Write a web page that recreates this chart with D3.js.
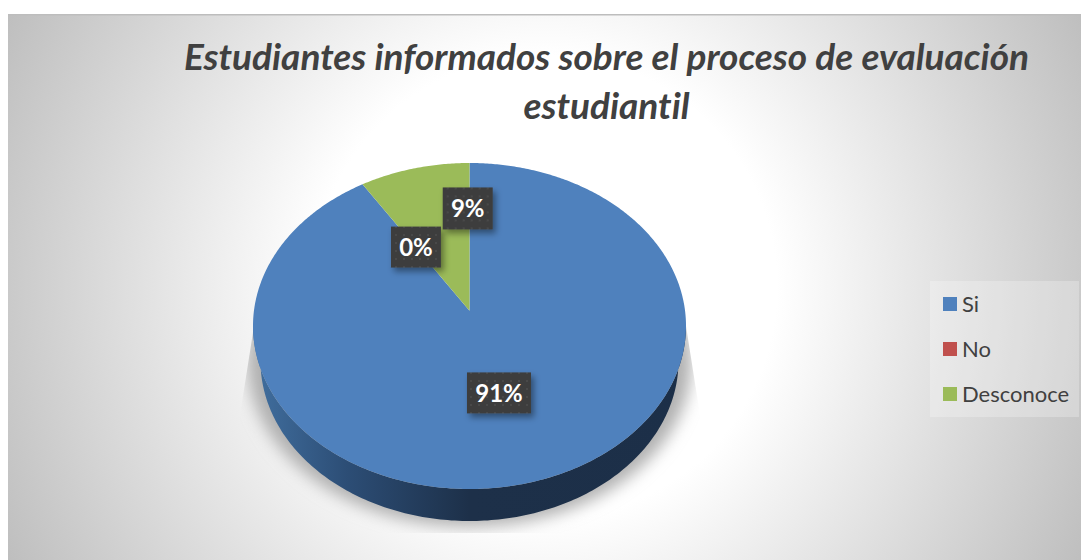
<!DOCTYPE html>
<html>
<head>
<meta charset="utf-8">
<script src="https://cdn.jsdelivr.net/npm/d3@7"></script>
<style>
    html, body { margin: 0; padding: 0; background: #fff; }
    svg { display: block; }
    text { font-family: Lato, "Open Sans", sans-serif; font-variant-ligatures: none; }
</style>
</head>
<body>
<div id="chart"></div>
<script>
"use strict";

// values
var categories = ["Si", "No", "Desconoce"];
var values = [91, 0, 9];
var labels = ["91%", "0%", "9%"];
var colors = ["#4f81bd", "#c0504d", "#9bbb59"];
var titleLines = ["Estudiantes informados sobre el proceso de evaluación", "estudiantil"];

var width = 1081, height = 560;
var panel = { x: 8, y: 14, w: 1073, h: 546 };

// top face of the pie as seen in perspective, bottom rim is a bit smaller
var pie3d = { cx: 469.5, cy: 326, rx: 216.5, ry: 163, tilt: -0.094 };
var rim = { cy: 361, rx: 209, ry: 160 };
var shade = { cy: 362, rx: 222, ry: 165 };

var svg = d3.select("#chart").append("svg")
    .attr("width", width)
    .attr("height", height);

var defs = svg.append("defs");

// background
var bg = defs.append("radialGradient")
    .attr("id", "bg-grad")
    .attr("gradientUnits", "userSpaceOnUse")
    .attr("cx", 545).attr("cy", 287).attr("r", 610);
bg.append("stop").attr("offset", "0").attr("stop-color", "#ffffff");
bg.append("stop").attr("offset", "0.38").attr("stop-color", "#ffffff");
bg.append("stop").attr("offset", "1").attr("stop-color", "#bdbdbd");

svg.append("rect")
    .attr("x", panel.x).attr("y", panel.y)
    .attr("width", panel.w).attr("height", panel.h)
    .attr("fill", "url(#bg-grad)");

svg.append("rect")
    .attr("x", panel.x).attr("y", panel.y)
    .attr("width", panel.w).attr("height", 1.5)
    .attr("fill", "#bdbdbd");

// title
svg.append("g").selectAll("text")
    .data(titleLines)
    .join("text")
    .attr("x", 606.5)
    .attr("y", (d, i) => 70 + i * 49)
    .attr("text-anchor", "middle")
    .attr("font-size", 37)
    .attr("font-weight", 700)
    .attr("font-style", "italic")
    .attr("fill", "#404040")
    .text(d => d);

// unit disc -> screen, angle a clockwise from 12 o'clock, r in 0..1
function project(a, r) {
    var u = Math.sin(a) * r;
    var v = -Math.cos(a) * r;
    var k = pie3d.tilt;
    var w = 1 + k * v;
    return [
        pie3d.cx + pie3d.rx * u * Math.sqrt(1 - k * k) / w,
        pie3d.cy + pie3d.ry * (v + k) / w
    ];
}

function ellipsePoint(e, t) {
    return [pie3d.cx + e.rx * Math.cos(t), e.cy + e.ry * Math.sin(t)];
}

var line = d3.line();

// soft shadow under the pie, cut off by its box as in the picture
defs.append("filter")
    .attr("id", "pie-blur")
    .attr("x", "-20%").attr("y", "-20%").attr("width", "140%").attr("height", "140%")
    .append("feGaussianBlur").attr("stdDeviation", 8);

defs.append("clipPath").attr("id", "shadow-clip")
    .append("path")
    .attr("d", line([[254, 326], [240, 415], [240, 533], [700, 533], [700, 415], [686, 326]]) + "Z");

svg.append("g")
    .attr("clip-path", "url(#shadow-clip)")
    .append("ellipse")
    .attr("cx", pie3d.cx)
    .attr("cy", shade.cy)
    .attr("rx", shade.rx)
    .attr("ry", shade.ry)
    .attr("fill", "#b0b0b0")
    .attr("filter", "url(#pie-blur)");

// side wall
var sideGrad = defs.append("linearGradient")
    .attr("id", "side-grad")
    .attr("gradientUnits", "userSpaceOnUse")
    .attr("x1", pie3d.cx - pie3d.rx).attr("y1", 0)
    .attr("x2", pie3d.cx + pie3d.rx).attr("y2", 0);
sideGrad.append("stop").attr("offset", "0").attr("stop-color", "#416f9f");
sideGrad.append("stop").attr("offset", "0.22").attr("stop-color", "#2c4d75");
sideGrad.append("stop").attr("offset", "0.5").attr("stop-color", "#1d3049");
sideGrad.append("stop").attr("offset", "1").attr("stop-color", "#1c2f48");

var lowerHalf = d3.range(0, 181).map(d => d * Math.PI / 180);
var sidePoints = lowerHalf.map(t => ellipsePoint(rim, t))
    .concat(lowerHalf.slice().reverse().map(t => ellipsePoint(pie3d, t)));

svg.append("path")
    .attr("d", line(sidePoints) + "Z")
    .attr("fill", "url(#side-grad)");

// slices
var pie = d3.pie().sort(null).value(d => d);
var arcs = pie(values);

function slicePath(d) {
    var steps = Math.max(1, Math.ceil((d.endAngle - d.startAngle) / 0.01));
    var pts = d3.range(steps + 1).map(i =>
        project(d.startAngle + (d.endAngle - d.startAngle) * i / steps, 1));
    pts.push(project(0, 0));
    return line(pts) + "Z";
}

svg.append("g").selectAll("path")
    .data(arcs)
    .join("path")
    .attr("d", slicePath)
    .attr("fill", (d, i) => colors[i]);

// data labels
var dots = defs.append("pattern")
    .attr("id", "label-dots")
    .attr("patternUnits", "userSpaceOnUse")
    .attr("width", 8).attr("height", 8);
dots.append("rect").attr("width", 8).attr("height", 8).attr("fill", "#3d3d3d");
dots.append("rect").attr("x", 3).attr("y", 3).attr("width", 2).attr("height", 2).attr("fill", "#4a4a4a");

defs.append("filter")
    .attr("id", "label-shadow")
    .attr("x", "-30%").attr("y", "-30%").attr("width", "160%").attr("height", "160%")
    .append("feDropShadow")
    .attr("dx", 3).attr("dy", 4).attr("stdDeviation", 3)
    .attr("flood-color", "#000").attr("flood-opacity", 0.4);

// label boxes: manual shift of the 9% label, same as in the picture
var labelBox = [
    { w: 64, h: 41, dx: -2, dy: 1 },
    { w: 50, h: 41, dx: 2, dy: 2 },
    { w: 50, h: 42, dx: 27, dy: -28 }
];

var labelG = svg.append("g").selectAll("g")
    .data(arcs)
    .join("g")
    .attr("transform", (d, i) => {
        var p = project((d.startAngle + d.endAngle) / 2, 0.5);
        return `translate(${p[0] + labelBox[i].dx},${p[1] + labelBox[i].dy})`;
    });

labelG.append("rect")
    .attr("x", (d, i) => -labelBox[i].w / 2)
    .attr("y", (d, i) => -labelBox[i].h / 2)
    .attr("width", (d, i) => labelBox[i].w)
    .attr("height", (d, i) => labelBox[i].h)
    .attr("fill", "url(#label-dots)")
    .attr("filter", "url(#label-shadow)");

labelG.append("text")
    .attr("text-anchor", "middle")
    .attr("dy", "0.36em")
    .attr("font-size", 24)
    .attr("font-weight", 700)
    .attr("fill", "#ffffff")
    .text((d, i) => labels[i]);

// legend
svg.append("rect")
    .attr("x", 930).attr("y", 281)
    .attr("width", 149).attr("height", 136)
    .attr("fill", "#ffffff").attr("fill-opacity", 0.25);

var legendY = d3.scalePoint()
    .domain(categories)
    .range([304, 394]);

var legend = svg.append("g").selectAll("g")
    .data(categories)
    .join("g")
    .attr("transform", d => `translate(943,${legendY(d)})`);

legend.append("rect")
    .attr("y", -7).attr("width", 14).attr("height", 14)
    .attr("fill", (d, i) => colors[i]);

legend.append("text")
    .attr("x", 19)
    .attr("dy", "0.36em")
    .attr("font-size", 22)
    .attr("fill", "#404040")
    .text(d => d);
</script>
</body>
</html>
